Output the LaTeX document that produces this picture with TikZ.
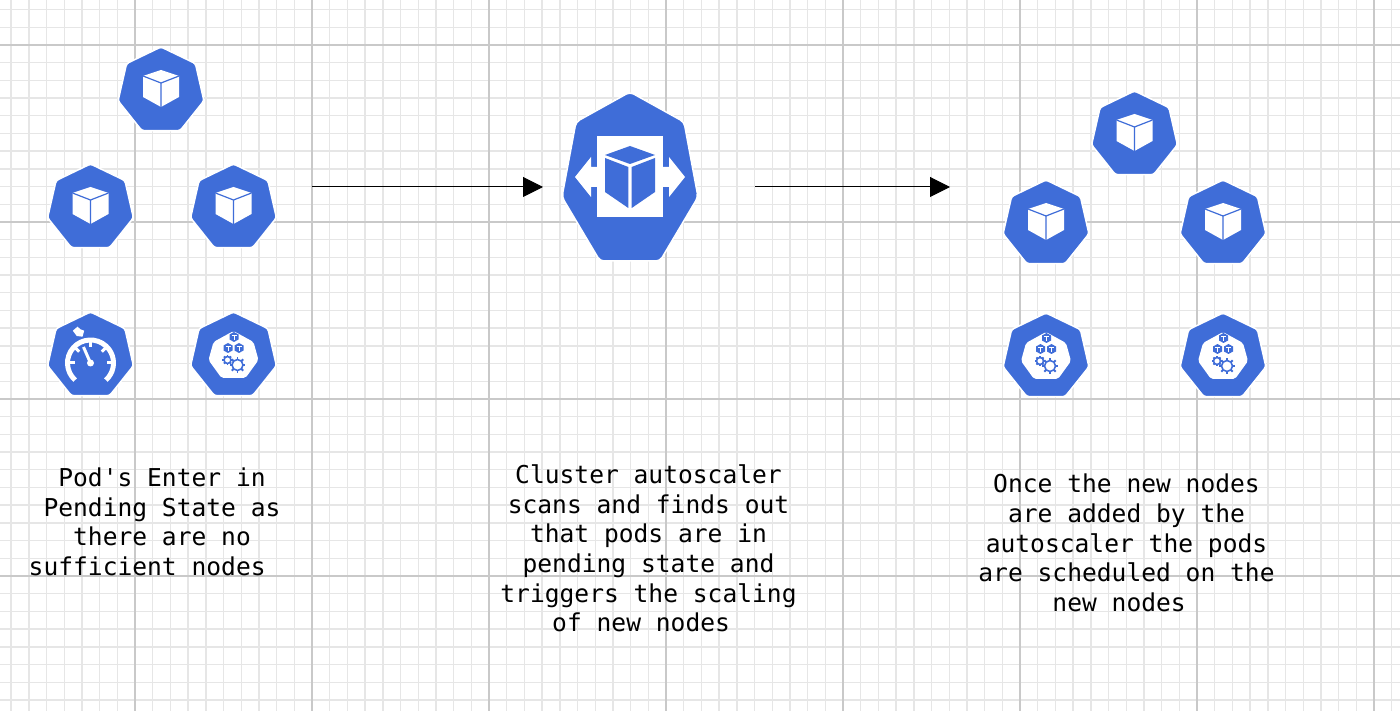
\documentclass[tikz,border=0pt]{standalone}
\usepackage{fontspec}
\setmonofont{DejaVu Sans Mono}
\usetikzlibrary{arrows.meta}
\usetikzlibrary{shapes.geometric}
\definecolor{kubeblue}{HTML}{3F6DD8}
\definecolor{gridminor}{HTML}{E6E6E6}
\definecolor{gridmajor}{HTML}{C9C9C9}
\tikzset{
  hept/.style={regular polygon,regular polygon sides=7,minimum size=88pt,inner sep=0pt,fill=kubeblue,draw=white,line width=1.5pt,rounded corners=2.5pt},
  flow/.style={black,line width=1pt,-{Triangle[length=20pt,width=20pt]}},
  caption/.style={font=\ttfamily\fontsize{24.6}{29.6}\selectfont,align=center,inner sep=0pt},
  cubeicon/.pic={
    \fill[white] (0,21)--(18,15)--(18,-6)--(0,-16)--(-18,-6)--(-18,15)--cycle;
    \draw[kubeblue,line width=1.2pt] (-18,15)--(0,8)--(18,15) (0,8)--(0,-16);
  },
  gaugeicon/.pic={
    \draw[white,line width=5pt] ({23*cos(228)},{-7+23*sin(228)}) arc[start angle=228,end angle=-48,radius=23pt];
    \foreach \a in {0,45,90,135,180}
      \draw[white,line width=3pt] ({23*cos(\a)},{-7+23*sin(\a)})--({16*cos(\a)},{-7+16*sin(\a)});
    \draw[white,line width=3pt] (-7,9)--(0,-7);
    \fill[white] (0,-7) circle[radius=3.5pt];
    \fill[white] (-17.7,25.3)--(-13,29.3)--(-10,26.7)--(-6.3,25.3)--(-8,19.3)--(-13.7,20)--cycle;
  },
  minicube/.pic={
    \fill[kubeblue] (0,5)--(4.5,2.5)--(4.5,-2.5)--(0,-5)--(-4.5,-2.5)--(-4.5,2.5)--cycle;
    \draw[white,line width=0.8pt] (-2.5,2)--(2.5,2) (0,2)--(0,-3);
  },
  gearicon/.pic={
    \foreach \a in {0,45,...,315}
      \draw[kubeblue,line width=1.8pt] (\a:0.8*\gearsize pt)--(\a:1.45*\gearsize pt);
    \draw[kubeblue,fill=white,line width=1.6pt] (0,0) circle[radius=\gearsize pt];
  },
  ctrlicon/.pic={
    \fill[white,rounded corners=2pt] (0,25)--(20,14)--(25,-4)--(12,-22)--(-12,-22)--(-25,-4)--(-20,14)--cycle;
    \pic at (0.5,19) {minicube};
    \pic at (-5.5,8) {minicube};
    \pic at (5.5,8) {minicube};
    \def\gearsize{3.5}
    \pic at (-6,-4) {gearicon};
    \def\gearsize{5.5}
    \pic at (4,-9) {gearicon};
  },
  scalericon/.pic={
    \fill[kubeblue,draw=white,line width=1.5pt,rounded corners=4pt] (0,95)--(54,65)--(68,-10)--(30,-74)--(-30,-74)--(-68,-10)--(-54,65)--cycle;
    \fill[white] (-33,51) rectangle (33,-30);
    \fill[white] (-55,10)--(-39,30)--(-39,20)--(-33,20)--(-33,0)--(-39,0)--(-39,-10)--cycle;
    \fill[white] (55,10)--(39,30)--(39,20)--(33,20)--(33,0)--(39,0)--(39,-10)--cycle;
    \fill[kubeblue] (0,41)--(25,32)--(0,23)--(-25,32)--cycle;
    \fill[kubeblue] (-25,29)--(-1.7,20)--(-1.7,-21)--(-25,-5)--cycle;
    \fill[kubeblue] (25,29)--(1.7,20)--(1.7,-21)--(25,-5)--cycle;
  }
}
\begin{document}
\begin{tikzpicture}[x=1pt,y=1pt]
\useasboundingbox (0,0) rectangle (1400,710);
\begin{scope}
\clip (0,0) rectangle (1400,710);
\begin{scope}[shift={(11.1,10.1)}]
\draw[gridminor,line width=1.4pt,step=17.7pt] (-20,-20) grid (1400,710);
\end{scope}
\begin{scope}[shift={(135,134)}]
\draw[gridmajor,line width=1.2pt,step=177pt] (-177,-177) grid (1300,600);
\end{scope}
\end{scope}

\node[hept] (podA) at (161,619) {};
\node[hept] (podB) at (90.5,502) {};
\node[hept] (podC) at (233.5,502) {};
\node[hept] (metrics) at (90.5,354) {};
\node[hept] (nodeA) at (233.5,354) {};
\coordinate (scaler) at (630,523);
\node[hept] (podD) at (1134.5,575) {};
\node[hept] (podE) at (1046,486) {};
\node[hept] (podF) at (1223,486) {};
\node[hept] (nodeB) at (1046,353) {};
\node[hept] (nodeC) at (1223,353) {};

\pic at (podA) {cubeicon};
\pic at (podB) {cubeicon};
\pic at (podC) {cubeicon};
\pic at (podD) {cubeicon};
\pic at (podE) {cubeicon};
\pic at (podF) {cubeicon};
\pic at (metrics) {gaugeicon};
\pic at (nodeA) {ctrlicon};
\pic at (nodeB) {ctrlicon};
\pic at (nodeC) {ctrlicon};
\pic at (scaler) {scalericon};

\coordinate (flowAs) at (312,523);
\coordinate (flowAe) at (543,523);
\coordinate (flowBs) at (755,523);
\coordinate (flowBe) at (950,523);
\draw[flow] (flowAs)--(flowAe);
\draw[flow] (flowBs)--(flowBe);

\node[caption] (textA) at (162,188) {Pod's Enter in\\Pending State as\\there are no\\sufficient nodes\hspace*{29.6pt}};
\node[caption] (textB) at (648.5,161.5) {Cluster autoscaler\\scans and finds out\\that pods are in\\pending state and\\triggers the scaling\\of new nodes\hspace*{14.8pt}};
\node[caption] (textC) at (1126.5,167) {Once the new nodes\\are added by the\\autoscaler the pods\\are scheduled on the\\new nodes\hspace*{14.8pt}};
\end{tikzpicture}
\end{document}
